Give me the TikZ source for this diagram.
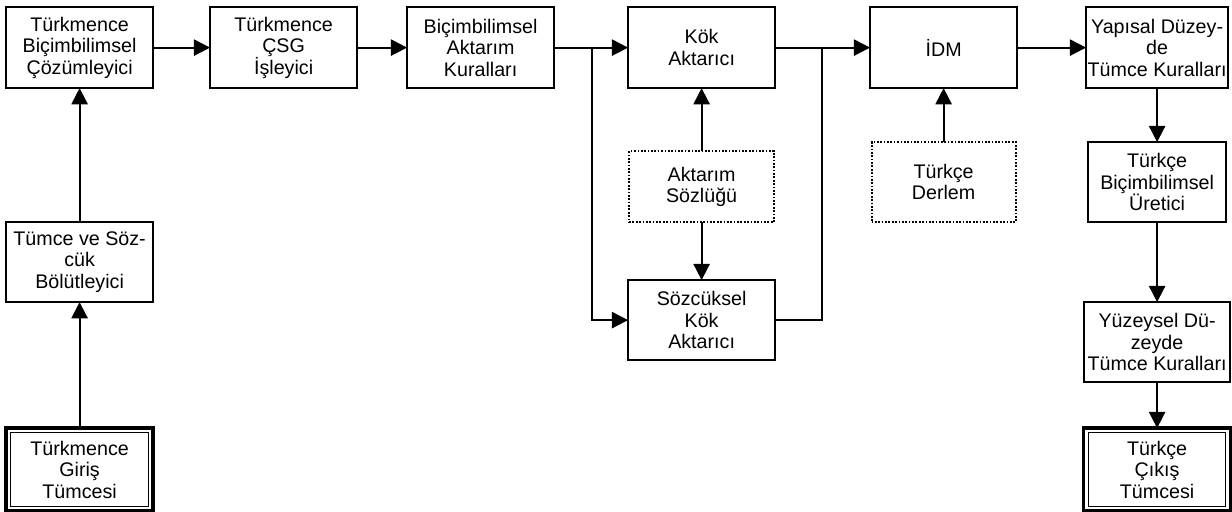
\documentclass[tikz,border=0pt]{standalone}
\usepackage{fontspec}
\setmainfont{Liberation Sans}
\usetikzlibrary{positioning,arrows.meta}

\begin{document}
\begin{tikzpicture}[
      node distance=1.4cm,
      font=\fontsize{14}{15.2}\selectfont,
      box/.style={draw, rectangle, line width=1.3pt, outer sep=0pt, inner sep=1pt,
                  minimum height=2.025cm, minimum width=3.675cm, align=center},
      dictbox/.style={box, line width=1.5pt, dash pattern=on 1.2pt off 1.2pt,
                      minimum height=1.775cm, minimum width=3.625cm},
      termbox/.style={box, line width=2.4pt, minimum height=2.075cm,
                      path picture={\draw[line width=0.8pt, solid]
                        ([shift={(3.4pt,3.4pt)}]path picture bounding box.south west) rectangle
                        ([shift={(-3.4pt,-3.4pt)}]path picture bounding box.north east);}},
      arr/.style={-{Triangle[length=11.5pt, width=11.5pt]}, line width=1.3pt},
    ]
    \useasboundingbox (0,0) rectangle (30.8,-12.775);
    % top row
    \node[box] (bicoz) at (1.99,-1.19) {Türkmence\\Biçimbilimsel\\Çözümleyici};
    \node[box, right=1.425cm of bicoz] (csg) {Türkmence\\ÇSG\\İşleyici};
    \node[box, right=1.25cm of csg] (aktkur) {Biçimbilimsel\\Aktarım\\Kuralları};
    \node[box, right=1.85cm of aktkur] (kok) {Kök\\Aktarıcı};
    \node[box, right=2.375cm of kok] (idm) {İDM};
    \node[box, right=1.725cm of idm, minimum width=3.55cm] (yapkur) {Yapısal Düzey-\\de\\Tümce Kuralları};
    % middle
    \node[dictbox, below=1.575cm of kok] (sozluk) {Aktarım\\Sözlüğü};
    \node[box, below=1.45cm of sozluk, minimum height=2cm] (sozkok) {Sözcüksel\\Kök\\Aktarıcı};
    \node[dictbox, below=1.35cm of idm, minimum height=2cm, minimum width=3.6cm] (derlem) {Türkçe\\Derlem};
    % left column
    \node[box, below=3.35cm of bicoz, minimum height=2cm] (bolut) {Tümce ve Söz-\\cük\\Bölütleyici};
    \node[termbox, below=3.15cm of bolut] (giris) {Türkmence\\Giriş\\Tümcesi};
    % right column
    \node[box, below=1.35cm of yapkur, minimum height=2cm, minimum width=3.45cm] (uretici) {Türkçe\\Biçimbilimsel\\Üretici};
    \node[box, below=2cm of uretici, minimum height=2cm, minimum width=3.65cm] (yuzkur) {Yüzeysel Dü-\\zeyde\\Tümce Kuralları};
    \node[termbox, below=1.15cm of yuzkur] (cikis) {Türkçe\\Çıkış\\Tümcesi};
    % connectors
    \coordinate[right=0.95cm of aktkur.east] (split);
    \coordinate[right=1.175cm of kok.east] (join);
    \draw[arr] (giris) -- (bolut);
    \draw[arr] (bolut) -- (bicoz);
    \draw[arr] (bicoz) -- (csg);
    \draw[arr] (csg) -- (aktkur);
    \draw[arr] (aktkur) -- (kok);
    \draw[arr] (split) |- (sozkok.west);
    \draw[arr] (sozluk) -- (kok);
    \draw[arr] (sozluk) -- (sozkok);
    \draw[arr] (kok) -- (idm);
    \draw[line width=1.3pt] (sozkok.east) -| (join);
    \draw[arr] (derlem) -- (idm);
    \draw[arr] (idm) -- (yapkur);
    \draw[arr] (yapkur) -- (uretici);
    \draw[arr] (uretici) -- (yuzkur);
    \draw[arr] (yuzkur) -- (cikis);
  \end{tikzpicture}
\end{document}
